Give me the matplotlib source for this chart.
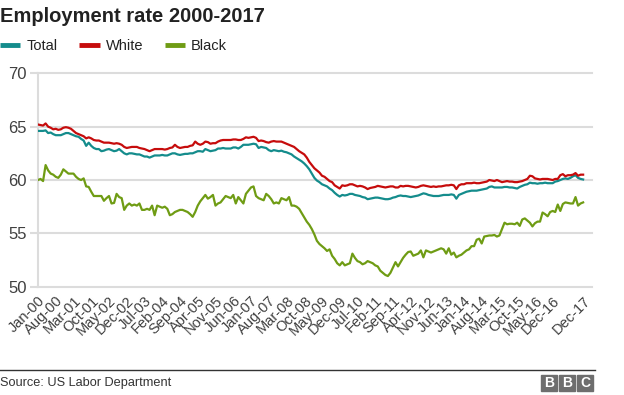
import matplotlib
matplotlib.use("Agg")
import matplotlib.pyplot as plt
from matplotlib.lines import Line2D
from matplotlib.patches import Rectangle
import numpy as np

plt.rcParams['font.family'] = ['Liberation Sans', 'DejaVu Sans']

title = "Employment rate 2000-2017"
series_names = ["Total", "White", "Black"]
colors = ["#148c8c", "#c60c0c", "#6f9c14"]

tick_labels = ["Jan-00", "Aug-00", "Mar-01", "Oct-01", "May-02", "Dec-02", "Jul-03",
               "Feb-04", "Sep-04", "Apr-05", "Nov-05", "Jun-06", "Jan-07", "Aug-07",
               "Mar-08", "Oct-08", "May-09", "Dec-09", "Jul-10", "Feb-11", "Sep-11",
               "Apr-12", "Nov-12", "Jun-13", "Jan-14", "Aug-14", "Mar-15", "Oct-15",
               "May-16", "Dec-16", "Dec-17"]
tick_months = [0, 7, 14, 21, 28, 35, 42, 49, 56, 63, 70, 77, 84, 91, 98, 105, 112,
               119, 126, 133, 140, 147, 154, 161, 168, 175, 182, 189, 196, 203, 215]

total = [
    64.6, 64.6, 64.6, 64.65, 64.4, 64.45, 64.3, 64.2, 64.2, 64.2, 64.3, 64.4,      # 2000
    64.4, 64.3, 64.2, 64.1, 64.05, 63.85, 63.7, 63.2, 63.5, 63.2, 63.0, 62.9,     # 2001
    62.9, 62.7, 62.75, 62.85, 62.9, 62.8, 62.7, 62.75, 62.9, 62.7, 62.5, 62.4,    # 2002
    62.5, 62.5, 62.45, 62.4, 62.4, 62.3, 62.2, 62.2, 62.1, 62.2, 62.3, 62.3,      # 2003
    62.3, 62.35, 62.3, 62.3, 62.4, 62.5, 62.5, 62.4, 62.35, 62.4, 62.45, 62.45,   # 2004
    62.5, 62.5, 62.6, 62.7, 62.7, 62.65, 62.9, 62.8, 62.7, 62.75, 62.8, 62.95,    # 2005
    62.95, 63.0, 62.95, 62.95, 62.95, 63.05, 63.05, 62.95, 63.1, 63.3, 63.3, 63.3,  # 2006
    63.35, 63.4, 63.35, 63.0, 63.1, 63.05, 63.0, 62.8, 62.7, 62.8, 62.75, 62.7,   # 2007
    62.75, 62.65, 62.6, 62.5, 62.4, 62.2, 62.05, 61.9, 61.75, 61.55, 61.3, 61.0,  # 2008
    60.6, 60.2, 59.95, 59.8, 59.6, 59.5, 59.4, 59.2, 59.05, 58.8, 58.6, 58.45,    # 2009
    58.6, 58.55, 58.6, 58.7, 58.7, 58.6, 58.55, 58.5, 58.4, 58.35, 58.2, 58.25,   # 2010
    58.3, 58.35, 58.35, 58.3, 58.25, 58.2, 58.2, 58.25, 58.35, 58.4, 58.5, 58.55,  # 2011
    58.5, 58.5, 58.45, 58.4, 58.45, 58.5, 58.55, 58.65, 58.75, 58.7, 58.6, 58.55,  # 2012
    58.5, 58.5, 58.5, 58.55, 58.6, 58.6, 58.6, 58.65, 58.6, 58.25, 58.6, 58.7,    # 2013
    58.8, 58.9, 58.95, 59.0, 59.0, 59.0, 59.05, 59.1, 59.15, 59.2, 59.35, 59.4,   # 2014
    59.3, 59.3, 59.3, 59.3, 59.35, 59.35, 59.3, 59.3, 59.25, 59.2, 59.35, 59.45,  # 2015
    59.55, 59.6, 59.75, 59.7, 59.7, 59.65, 59.7, 59.7, 59.75, 59.7, 59.7, 59.7,   # 2016
    59.85, 59.9, 60.0, 60.1, 60.15, 60.1, 60.2, 60.35, 60.45, 60.2, 60.1, 60.05,  # 2017
]

white = [
    65.2, 65.15, 65.1, 65.3, 65.0, 64.9, 64.75, 64.8, 64.7, 64.75, 64.9, 64.95,   # 2000
    64.9, 64.8, 64.6, 64.4, 64.3, 64.2, 64.1, 63.9, 64.0, 63.9, 63.75, 63.7,      # 2001
    63.7, 63.6, 63.5, 63.5, 63.5, 63.45, 63.4, 63.45, 63.4, 63.3, 63.1, 63.0,     # 2002
    63.05, 63.1, 63.1, 63.1, 63.0, 62.95, 62.9, 62.8, 62.7, 62.8, 62.9, 62.9,     # 2003
    62.9, 62.9, 62.85, 62.9, 63.0, 63.05, 63.3, 63.1, 63.0, 63.05, 63.1, 63.1,    # 2004
    63.2, 63.25, 63.6, 63.4, 63.3, 63.4, 63.6, 63.55, 63.4, 63.45, 63.45, 63.6,   # 2005
    63.7, 63.75, 63.75, 63.75, 63.75, 63.8, 63.8, 63.75, 63.75, 63.85, 64.0, 63.95,  # 2006
    64.0, 64.05, 63.95, 63.65, 63.7, 63.65, 63.55, 63.5, 63.6, 63.65, 63.6, 63.6,  # 2007
    63.6, 63.5, 63.4, 63.3, 63.2, 63.1, 62.9, 62.7, 62.55, 62.4, 62.1, 61.7,      # 2008
    61.4, 61.1, 60.9, 60.7, 60.4, 60.3, 60.1, 59.9, 59.8, 59.5, 59.35, 59.2,      # 2009
    59.5, 59.45, 59.5, 59.6, 59.6, 59.5, 59.4, 59.45, 59.4, 59.3, 59.15, 59.25,   # 2010
    59.3, 59.35, 59.45, 59.4, 59.35, 59.3, 59.35, 59.4, 59.4, 59.3, 59.3, 59.45,  # 2011
    59.4, 59.45, 59.45, 59.4, 59.35, 59.3, 59.35, 59.45, 59.5, 59.45, 59.4, 59.35,  # 2012
    59.4, 59.35, 59.4, 59.4, 59.45, 59.5, 59.5, 59.55, 59.5, 59.15, 59.5, 59.6,   # 2013
    59.6, 59.7, 59.7, 59.7, 59.75, 59.7, 59.7, 59.75, 59.8, 59.85, 60.0, 59.95,   # 2014
    59.9, 60.0, 59.9, 59.8, 59.85, 59.9, 59.85, 59.85, 59.8, 59.8, 59.85, 59.9,   # 2015
    60.0, 60.1, 60.4, 60.35, 60.15, 60.1, 60.05, 60.1, 60.1, 60.1, 60.05, 60.0,   # 2016
    60.1, 60.1, 60.45, 60.55, 60.35, 60.45, 60.45, 60.5, 60.65, 60.4, 60.5, 60.5,  # 2017
]

black = [
    60.0, 60.1, 59.9, 61.4, 60.9, 60.6, 60.5, 60.3, 60.2, 60.5, 61.0, 60.8,       # 2000
    60.6, 60.6, 60.6, 60.3, 60.1, 60.0, 60.15, 59.4, 59.35, 58.9, 58.5, 58.5,     # 2001
    58.5, 58.5, 58.05, 58.3, 58.5, 57.8, 57.85, 58.7, 58.4, 58.3, 57.2, 57.6,     # 2002
    57.8, 57.6, 57.7, 57.6, 57.8, 57.2, 57.2, 57.3, 57.2, 57.6, 56.7, 57.6,       # 2003
    57.5, 57.4, 57.5, 57.3, 56.7, 56.8, 57.0, 57.1, 57.2, 57.2, 57.1, 57.0,       # 2004
    56.8, 56.55, 57.0, 57.6, 58.0, 58.3, 58.6, 58.25, 58.4, 58.6, 57.6, 57.8,     # 2005
    57.9, 58.2, 58.5, 58.4, 58.3, 58.6, 57.8, 58.4, 58.1, 57.8, 58.7, 59.0,       # 2006
    59.3, 59.4, 58.5, 58.3, 58.2, 58.1, 58.7, 58.5, 58.2, 57.8, 57.9, 57.8,       # 2007
    58.3, 58.2, 58.1, 58.4, 57.6, 57.6, 57.5, 57.3, 56.9, 56.5, 56.1, 55.8,       # 2008
    55.4, 54.9, 54.3, 54.0, 53.8, 53.6, 53.35, 53.5, 52.9, 52.6, 52.2, 52.0,      # 2009
    52.3, 52.0, 52.1, 52.2, 53.1, 52.7, 52.4, 52.3, 52.1, 52.2, 52.4, 52.3,       # 2010
    52.2, 52.0, 51.9, 51.5, 51.3, 51.1, 51.0, 51.3, 51.8, 52.3, 51.9, 52.3,       # 2011
    52.7, 53.0, 53.25, 53.3, 52.9, 53.0, 53.1, 53.4, 52.75, 53.4, 53.3, 53.2,     # 2012
    53.3, 53.4, 53.5, 53.6, 53.5, 53.1, 53.6, 53.0, 53.2, 52.75, 52.9, 53.0,      # 2013
    53.2, 53.4, 53.5, 53.8, 53.8, 54.4, 54.5, 54.05, 54.7, 54.75, 54.8, 54.8,     # 2014
    54.85, 54.7, 54.8, 55.4, 56.0, 55.85, 55.9, 55.9, 55.85, 56.0, 55.7, 56.3,    # 2015
    56.4, 56.2, 56.0, 55.65, 55.95, 56.1, 56.1, 56.95, 56.8, 56.6, 57.0, 57.1,    # 2016
    57.0, 57.7, 57.1, 57.75, 57.9, 57.85, 57.8, 57.8, 58.4, 57.6, 57.8, 57.9,     # 2017
]

W, H = 624, 395
fig = plt.figure(figsize=(W / 100, H / 100), dpi=100)
ax = fig.add_axes([38 / W, 1 - 286.7 / H, (592 - 38) / W, (286.7 - 73.3) / H])

months = np.arange(len(total))
for vals, c in zip([total, white, black], colors):
    ax.plot(months, vals, color=c, lw=1.6, solid_joinstyle='round', zorder=3)

ax.set_xlim(0, 218.5)
ax.set_ylim(50, 70)
ax.set_yticks([50, 55, 60, 65, 70])
ax.yaxis.grid(True, color='#dcdcdc', lw=1.5)
for gl in ax.get_ygridlines():
    gl.set_clip_on(False)
ax.set_axisbelow(True)
for s in ['top', 'right', 'bottom']:
    ax.spines[s].set_visible(False)
ax.spines['left'].set_color('#dcdcdc')
ax.spines['left'].set_linewidth(1.5)
ax.tick_params(axis='y', length=6, width=1.5, color='#dcdcdc', pad=2,
               labelsize=12, labelcolor='#404040')
ax.set_xticks(tick_months)
ax.set_xticklabels(tick_labels, rotation=45, ha='right', va='top',
                   rotation_mode='anchor', fontsize=10.5, color='#404040')
ax.tick_params(axis='x', length=0, pad=5)

fig.text(0, 1 - 16 / H, title, fontsize=14.5, fontweight='bold', color='#222222',
         ha='left', va='center')

handles = [Line2D([], [], color=c, lw=3.5, solid_capstyle='butt') for c in colors]
fig.legend(handles, series_names, loc='center left', bbox_to_anchor=(0, 1 - 46 / H),
           ncol=3, frameon=False, fontsize=10.5, handlelength=1.4, handletextpad=0.4,
           columnspacing=1.5, borderpad=0, borderaxespad=0, labelcolor='#222222')

fig.add_artist(Line2D([0, 595 / W], [1 - 370 / H, 1 - 370 / H], color='#333333', lw=1))
fig.text(0, 1 - 383 / H, "Source: US Labor Department", fontsize=9.2, color='#333333',
         ha='left', va='center')
for k, letter in enumerate("BBC"):
    x0 = 541 + k * 18
    fig.add_artist(Rectangle((x0 / W, 1 - 391 / H), 16 / W, 16 / H, color='#6e6e6e',
                             transform=fig.transFigure))
    fig.text((x0 + 8) / W, 1 - 383 / H, letter, color='white', fontsize=10,
             fontweight='bold', ha='center', va='center')

fig.savefig("out.png", dpi=100)
